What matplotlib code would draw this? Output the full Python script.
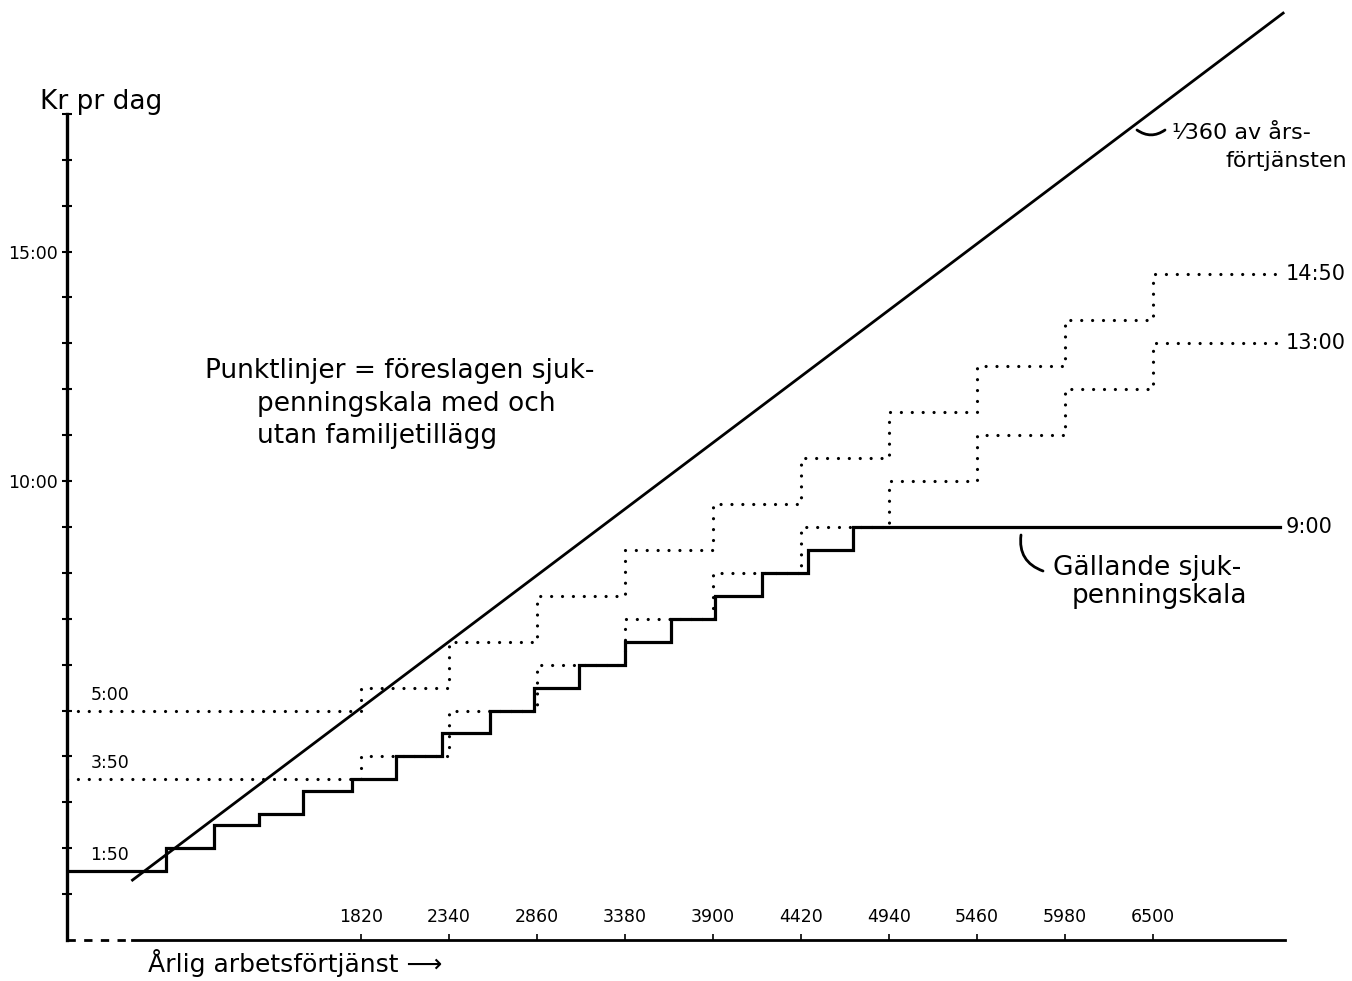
import matplotlib
matplotlib.use("Agg")
import matplotlib.pyplot as plt

# ---------------- data ----------------
# Gällande sjukpenningskala (current scale): income thresholds (kr/year) and daily benefit (kr)
current_thresholds = [670, 950, 1220, 1480, 1770, 2030, 2300, 2580, 2840,
                      3110, 3380, 3650, 3910, 4190, 4460, 4730]
current_values = [1.50, 2.00, 2.50, 2.75, 3.25, 3.50, 4.00, 4.50, 5.00,
                  5.50, 6.00, 6.50, 7.00, 7.50, 8.00, 8.50, 9.00]

# Föreslagen sjukpenningskala (proposed), with and without family supplement
proposed_thresholds = [1820, 2340, 2860, 3380, 3900, 4420, 4940, 5460, 5980, 6500]
proposed_with_family = [5.00, 5.50, 6.50, 7.50, 8.50, 9.50, 10.50, 11.50, 12.50, 13.50, 14.50]
proposed_without_family = [3.50, 4.00, 5.00, 6.00, 7.00, 8.00, 9.00, 10.00, 11.00, 12.00, 13.00]

# 1/360 of annual income
diag_income = [470, 7270]
diag_divisor = 360

income_start = 83      # where the y axis sits
income_end = 7250      # where the step lines end
axis_end = 7281

x_tick_values = [1820, 2340, 2860, 3380, 3900, 4420, 4940, 5460, 5980, 6500]
x_tick_labels = [str(v) for v in x_tick_values]
y_tick_values = list(range(1, 19))
y_tick_labels = ["15:00" if v == 15 else ("10:00" if v == 10 else "") for v in y_tick_values]

left_labels = [(5.00, "5:00"), (3.50, "3:50"), (1.50, "1:50")]
right_labels = [(14.50, "14:50"), (13.00, "13:00"), (9.00, "9:00")]

# ---------------- figure ----------------
plt.rcParams['font.family'] = ['DejaVu Sans']
W, H = 1352, 981
fig = plt.figure(figsize=(W / 100, H / 100), dpi=100)
ax = fig.add_axes([67 / W, 41 / H, (1285 - 67) / W, 940 / H])
ax.set_xlim(income_start, axis_end)
ax.set_ylim(0, 20.48)

def fp(x, y):
    return x / W, 1 - y / H

dot_style = dict(color='black', lw=2.3, linestyle=(0, (0.01, 3.4)),
                 dash_capstyle='round', zorder=2)

def steps(thr, vals):
    xs = [income_start] + list(thr) + [income_end]
    ys = list(vals) + [vals[-1]]
    return xs, ys

xs, ys = steps(proposed_thresholds, proposed_with_family)
ax.step(xs, ys, where='post', **dot_style)
xs, ys = steps(proposed_thresholds, proposed_without_family)
ax.step(xs, ys, where='post', **dot_style)

xs, ys = steps(current_thresholds, current_values)
ax.step(xs, ys, where='post', color='black', lw=2.3, zorder=3,
        solid_joinstyle='miter')

ax.plot(diag_income, [v / diag_divisor for v in diag_income],
        color='black', lw=2.0, zorder=3, clip_on=False)

# ---------------- axes styling ----------------
for s in ['top', 'right']:
    ax.spines[s].set_visible(False)
ax.spines['left'].set_bounds(0, 18)
ax.spines['left'].set_linewidth(2.4)
ax.spines['bottom'].set_bounds(diag_income[0], axis_end)
ax.spines['bottom'].set_linewidth(2.0)
ax.plot([income_start, diag_income[0]], [0, 0], color='black', lw=2.0,
        linestyle=(0, (3, 3)), clip_on=False)

ax.set_yticks(y_tick_values)
ax.set_yticklabels(y_tick_labels)
ax.tick_params(axis='y', direction='inout', length=7, width=1.5, pad=3,
               labelsize=12.5)
ax.set_xticks(x_tick_values)
ax.set_xticklabels(x_tick_labels)
ax.tick_params(axis='x', direction='in', length=4, width=1.2, pad=-23,
               labelsize=12.5)

for val, lab in left_labels:
    ax.annotate(lab, xy=(income_start, val), xytext=(17, 5),
                textcoords='offset points', ha='left', va='bottom',
                fontsize=12.5)
for val, lab in right_labels:
    ax.annotate(lab, xy=(income_end, val), xytext=(4, 0),
                textcoords='offset points', ha='left', va='center',
                fontsize=15, annotation_clip=False)

# ---------------- texts ----------------
fig.text(*fp(40, 109), "Kr pr dag", fontsize=19, ha='left', va='baseline')
fig.text(*fp(205, 378), "Punktlinjer = föreslagen sjuk-", fontsize=19,
         ha='left', va='baseline')
fig.text(*fp(257, 411), "penningskala med och", fontsize=19,
         ha='left', va='baseline')
fig.text(*fp(257, 443), "utan familjetillägg", fontsize=19,
         ha='left', va='baseline')
fig.text(*fp(1053, 575), "Gällande sjuk-", fontsize=19, ha='left', va='baseline')
fig.text(*fp(1072, 603), "penningskala", fontsize=19, ha='left', va='baseline')
fig.text(*fp(1172, 139), "¹⁄360 av års-", fontsize=16, ha='left', va='baseline')
fig.text(*fp(1226, 167), "förtjänsten", fontsize=16, ha='left', va='baseline')
fig.text(*fp(148, 972), "Årlig arbetsförtjänst ⟶", fontsize=18,
         ha='left', va='baseline')

# curved pointer marks
ax.annotate('', xy=(1165, H - 130), xytext=(1137, H - 130),
            xycoords='figure pixels', textcoords='figure pixels',
            arrowprops=dict(arrowstyle='-', connectionstyle='arc3,rad=0.35',
                            lw=2, shrinkA=0, shrinkB=0, color='black'))
ax.annotate('', xy=(1043, H - 571), xytext=(1021, H - 535),
            xycoords='figure pixels', textcoords='figure pixels',
            arrowprops=dict(arrowstyle='-', connectionstyle='arc3,rad=0.4',
                            lw=2, shrinkA=0, shrinkB=0, color='black'))

fig.savefig('out.png', dpi=100)
